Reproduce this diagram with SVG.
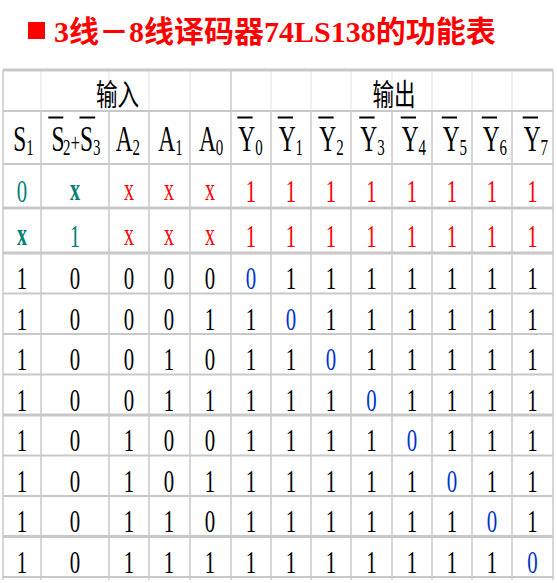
<svg xmlns="http://www.w3.org/2000/svg" width="557" height="583" viewBox="0 0 557 583">
<style>
.h{stroke:#c8c8c8;stroke-width:2}
.hk{stroke:#c8c8c8;stroke-width:3}
.v{stroke:#c8c8c8;stroke-width:1.5}
.vf{stroke:#ececec;stroke-width:1.5}
.t{font-family:"Liberation Serif","Times New Roman",serif}
.d{font-size:32px;text-anchor:middle}
.hd{font-size:36px;fill:#000}
.sub{font-size:23px}
.k{fill:#000}
.r{fill:#ff0000}
.g{fill:#008078}
.b{fill:#0033cc}
.x{font-size:31px}
.bx{font-size:31px;font-weight:bold}
.cjk{font-family:"Noto Sans CJK SC","Liberation Serif",sans-serif;font-size:30px;fill:#000;text-anchor:middle}
</style>
<rect width="557" height="583" fill="#ffffff"/>
<g id="title">
<rect x="28" y="22" width="17" height="17" fill="#ff0000"/>
<text x="54" y="42" font-family="'Liberation Serif','Noto Sans CJK SC',serif" font-size="30" font-weight="bold" fill="#ff0000">3线－8线译码器74LS138的功能表</text>
</g>
<g id="grid">
<line class="vf" x1="41" y1="70" x2="41" y2="111"/>
<line class="vf" x1="109" y1="70" x2="109" y2="111"/>
<line class="vf" x1="149" y1="70" x2="149" y2="111"/>
<line class="vf" x1="190" y1="70" x2="190" y2="111"/>
<line class="vf" x1="271" y1="70" x2="271" y2="111"/>
<line class="vf" x1="311" y1="70" x2="311" y2="111"/>
<line class="vf" x1="351" y1="70" x2="351" y2="111"/>
<line class="vf" x1="392" y1="70" x2="392" y2="111"/>
<line class="vf" x1="432" y1="70" x2="432" y2="111"/>
<line class="vf" x1="472" y1="70" x2="472" y2="111"/>
<line class="vf" x1="512" y1="70" x2="512" y2="111"/>
<line class="v" x1="3" y1="70" x2="3" y2="580"/>
<line class="v" x1="231" y1="70" x2="231" y2="580"/>
<line class="v" x1="553" y1="70" x2="553" y2="580"/>
<line class="v" x1="41" y1="111" x2="41" y2="580"/>
<line class="v" x1="109" y1="111" x2="109" y2="580"/>
<line class="v" x1="149" y1="111" x2="149" y2="580"/>
<line class="v" x1="190" y1="111" x2="190" y2="580"/>
<line class="v" x1="271" y1="111" x2="271" y2="580"/>
<line class="v" x1="311" y1="111" x2="311" y2="580"/>
<line class="v" x1="351" y1="111" x2="351" y2="580"/>
<line class="v" x1="392" y1="111" x2="392" y2="580"/>
<line class="v" x1="432" y1="111" x2="432" y2="580"/>
<line class="v" x1="472" y1="111" x2="472" y2="580"/>
<line class="v" x1="512" y1="111" x2="512" y2="580"/>
<line class="hk" x1="3" y1="70" x2="553" y2="70"/>
<line class="h" x1="3" y1="111" x2="553" y2="111"/>
<line class="h" x1="3" y1="164" x2="553" y2="164"/>
<line class="hk" x1="3" y1="208" x2="553" y2="208"/>
<line class="hk" x1="3" y1="253" x2="553" y2="253"/>
<line class="h" x1="3" y1="293.5" x2="553" y2="293.5"/>
<line class="h" x1="3" y1="334" x2="553" y2="334"/>
<line class="h" x1="3" y1="374.5" x2="553" y2="374.5"/>
<line class="hk" x1="3" y1="415" x2="553" y2="415"/>
<line class="h" x1="3" y1="455.5" x2="553" y2="455.5"/>
<line class="h" x1="3" y1="496" x2="553" y2="496"/>
<line class="hk" x1="3" y1="536.5" x2="553" y2="536.5"/>
<line class="h" x1="3" y1="577" x2="553" y2="577"/>
</g>
<g id="group-headers">
<g transform="scale(0.72,1)">
<text class="cjk" x="163.2" y="105">输入</text>
<text class="cjk" x="547.2" y="105">输出</text>
</g>
</g>
<g id="column-headers">
<g fill="#000">
<rect x="48.3" y="116.5" width="15" height="2"/>
<rect x="79.5" y="116.5" width="15.7" height="2"/>
<rect x="237.3" y="116.5" width="15.3" height="2"/>
<rect x="277.7" y="116.5" width="15.3" height="2"/>
<rect x="318.3" y="116.5" width="15.3" height="2"/>
<rect x="359.3" y="116.5" width="15.3" height="2"/>
<rect x="400.7" y="116.5" width="15.3" height="2"/>
<rect x="441.7" y="116.5" width="15.3" height="2"/>
<rect x="481.7" y="116.5" width="15.3" height="2"/>
<rect x="522.7" y="116.5" width="15.3" height="2"/>
</g>
<g class="t hd" transform="scale(0.65,1)">
<text x="20.5" y="151">S<tspan class="sub" dy="4.5">1</tspan></text>
<text y="151"><tspan x="79.2">S</tspan><tspan class="sub" x="96.9" dy="4.5">2</tspan><tspan x="108.5" dy="-4.5" font-size="26">+</tspan><tspan x="123.1">S</tspan><tspan class="sub" x="143.1" dy="4.5">3</tspan></text>
<text x="178" y="151">A<tspan class="sub" dy="4.5">2</tspan></text>
<text x="243.5" y="151">A<tspan class="sub" dy="4.5">1</tspan></text>
<text x="306" y="151">A<tspan class="sub" dy="4.5">0</tspan></text>
<text x="366.6" y="151">Y<tspan class="sub" dy="4.5">0</tspan></text>
<text x="428.8" y="151">Y<tspan class="sub" dy="4.5">1</tspan></text>
<text x="491.2" y="151">Y<tspan class="sub" dy="4.5">2</tspan></text>
<text x="554.3" y="151">Y<tspan class="sub" dy="4.5">3</tspan></text>
<text x="618" y="151">Y<tspan class="sub" dy="4.5">4</tspan></text>
<text x="681.1" y="151">Y<tspan class="sub" dy="4.5">5</tspan></text>
<text x="742.6" y="151">Y<tspan class="sub" dy="4.5">6</tspan></text>
<text x="805.7" y="151">Y<tspan class="sub" dy="4.5">7</tspan></text>
</g>
</g>
<g id="rows" class="t d" transform="scale(0.65,1)">
<g id="row-0">
<text class="g" x="33.85" y="202">0</text>
<text class="g bx" x="115.38" y="200">x</text>
<text class="r x" x="198.46" y="200">x</text>
<text class="r x" x="260" y="200">x</text>
<text class="r x" x="323.08" y="200">x</text>
<text class="r" x="386.15" y="202">1</text>
<text class="r" x="447.69" y="202">1</text>
<text class="r" x="509.23" y="202">1</text>
<text class="r" x="571.54" y="202">1</text>
<text class="r" x="633.85" y="202">1</text>
<text class="r" x="695.38" y="202">1</text>
<text class="r" x="756.92" y="202">1</text>
<text class="r" x="819.23" y="202">1</text>
</g>
<g id="row-1">
<text class="g bx" x="33.85" y="245.5">x</text>
<text class="g" x="115.38" y="247.5">1</text>
<text class="r x" x="198.46" y="245">x</text>
<text class="r x" x="260" y="245">x</text>
<text class="r x" x="323.08" y="245">x</text>
<text class="r" x="386.15" y="247.5">1</text>
<text class="r" x="447.69" y="247.5">1</text>
<text class="r" x="509.23" y="247.5">1</text>
<text class="r" x="571.54" y="247.5">1</text>
<text class="r" x="633.85" y="247.5">1</text>
<text class="r" x="695.38" y="247.5">1</text>
<text class="r" x="756.92" y="247.5">1</text>
<text class="r" x="819.23" y="247.5">1</text>
</g>
<g id="row-2" class="k">
<text x="33.85" y="289.5">1</text><text x="115.38" y="289.5">0</text>
<text x="198.46" y="289.5">0</text><text x="260" y="289.5">0</text><text x="323.08" y="289.5">0</text>
<text class="b" x="386.15" y="289.5">0</text><text x="447.69" y="289.5">1</text><text x="509.23" y="289.5">1</text><text x="571.54" y="289.5">1</text>
<text x="633.85" y="289.5">1</text><text x="695.38" y="289.5">1</text><text x="756.92" y="289.5">1</text><text x="819.23" y="289.5">1</text>
</g>
<g id="row-3" class="k">
<text x="33.85" y="330">1</text><text x="115.38" y="330">0</text>
<text x="198.46" y="330">0</text><text x="260" y="330">0</text><text x="323.08" y="330">1</text>
<text x="386.15" y="330">1</text><text class="b" x="447.69" y="330">0</text><text x="509.23" y="330">1</text><text x="571.54" y="330">1</text>
<text x="633.85" y="330">1</text><text x="695.38" y="330">1</text><text x="756.92" y="330">1</text><text x="819.23" y="330">1</text>
</g>
<g id="row-4" class="k">
<text x="33.85" y="370.5">1</text><text x="115.38" y="370.5">0</text>
<text x="198.46" y="370.5">0</text><text x="260" y="370.5">1</text><text x="323.08" y="370.5">0</text>
<text x="386.15" y="370.5">1</text><text x="447.69" y="370.5">1</text><text class="b" x="509.23" y="370.5">0</text><text x="571.54" y="370.5">1</text>
<text x="633.85" y="370.5">1</text><text x="695.38" y="370.5">1</text><text x="756.92" y="370.5">1</text><text x="819.23" y="370.5">1</text>
</g>
<g id="row-5" class="k">
<text x="33.85" y="411">1</text><text x="115.38" y="411">0</text>
<text x="198.46" y="411">0</text><text x="260" y="411">1</text><text x="323.08" y="411">1</text>
<text x="386.15" y="411">1</text><text x="447.69" y="411">1</text><text x="509.23" y="411">1</text><text class="b" x="571.54" y="411">0</text>
<text x="633.85" y="411">1</text><text x="695.38" y="411">1</text><text x="756.92" y="411">1</text><text x="819.23" y="411">1</text>
</g>
<g id="row-6" class="k">
<text x="33.85" y="451.5">1</text><text x="115.38" y="451.5">0</text>
<text x="198.46" y="451.5">1</text><text x="260" y="451.5">0</text><text x="323.08" y="451.5">0</text>
<text x="386.15" y="451.5">1</text><text x="447.69" y="451.5">1</text><text x="509.23" y="451.5">1</text><text x="571.54" y="451.5">1</text>
<text class="b" x="633.85" y="451.5">0</text><text x="695.38" y="451.5">1</text><text x="756.92" y="451.5">1</text><text x="819.23" y="451.5">1</text>
</g>
<g id="row-7" class="k">
<text x="33.85" y="492">1</text><text x="115.38" y="492">0</text>
<text x="198.46" y="492">1</text><text x="260" y="492">0</text><text x="323.08" y="492">1</text>
<text x="386.15" y="492">1</text><text x="447.69" y="492">1</text><text x="509.23" y="492">1</text><text x="571.54" y="492">1</text>
<text x="633.85" y="492">1</text><text class="b" x="695.38" y="492">0</text><text x="756.92" y="492">1</text><text x="819.23" y="492">1</text>
</g>
<g id="row-8" class="k">
<text x="33.85" y="532.5">1</text><text x="115.38" y="532.5">0</text>
<text x="198.46" y="532.5">1</text><text x="260" y="532.5">1</text><text x="323.08" y="532.5">0</text>
<text x="386.15" y="532.5">1</text><text x="447.69" y="532.5">1</text><text x="509.23" y="532.5">1</text><text x="571.54" y="532.5">1</text>
<text x="633.85" y="532.5">1</text><text x="695.38" y="532.5">1</text><text class="b" x="756.92" y="532.5">0</text><text x="819.23" y="532.5">1</text>
</g>
<g id="row-9" class="k">
<text x="33.85" y="573">1</text><text x="115.38" y="573">0</text>
<text x="198.46" y="573">1</text><text x="260" y="573">1</text><text x="323.08" y="573">1</text>
<text x="386.15" y="573">1</text><text x="447.69" y="573">1</text><text x="509.23" y="573">1</text><text x="571.54" y="573">1</text>
<text x="633.85" y="573">1</text><text x="695.38" y="573">1</text><text x="756.92" y="573">1</text><text class="b" x="819.23" y="573">0</text>
</g>
</g>
</svg>
